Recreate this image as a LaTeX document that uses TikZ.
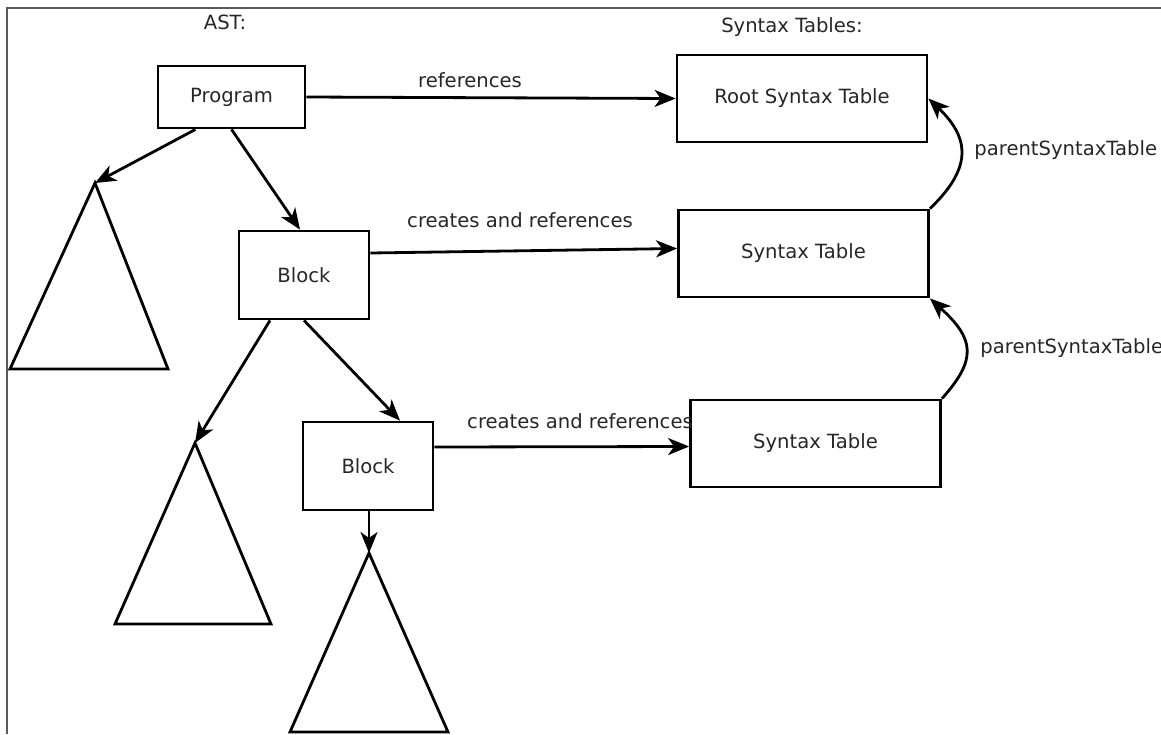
\documentclass[tikz,border=0pt]{standalone}
\usepackage{fontspec}
\setmainfont{DejaVu Sans}
\usetikzlibrary{arrows.meta,positioning,calc}

\begin{document}
\begin{tikzpicture}[x=1pt,y=-1pt,line width=2.8pt,
    >={Stealth[length=21pt,width=17pt,inset=6pt]},
    font=\fontsize{19.6}{23}\selectfont]
    \tikzstyle{box}=[draw, rectangle, inner sep=0pt, text=black!85]
    \tikzstyle{ast node}=[box, minimum width=130pt, minimum height=88pt]
    \tikzstyle{table node}=[box, minimum width=250pt, minimum height=87pt]
    \tikzstyle{annot}=[text=black!85, inner sep=1pt]
    \tikzstyle{subtree}=[line join=miter]

    \useasboundingbox (0,0) rectangle (1161,734);

    % Frame of the page
    \draw[black!65, line width=2pt] (7,734) -- (7,8) -- (1161,8);

    % Headings
    \node[annot] (ast) at (225,22) {AST:};
    \node[annot] (tables) at (792,27) {Syntax Tables:};

    % Draw the AST nodes
    \node[ast node, minimum width=147pt, minimum height=62pt] (prog) at (231.5,97) {Program};
    \node[ast node] (blockA) at (304,275) {Block};
    \node[ast node] (blockB) at (368,466) {Block};

    % Draw the syntax tables
    \node[table node] (root) at (802,98.5) {Root Syntax Table};
    \node[table node] (tabA) at (803.5,253.5) {Syntax Table};
    \node[table node] (tabB) at (815.5,443.5) {Syntax Table};

    % Draw the subtrees
    \coordinate (treeA) at (95,183);
    \coordinate (treeB) at (195,443);
    \coordinate (treeC) at (369,553);
    \draw[subtree] (treeA) -- (10,369) -- (168,369) -- cycle;
    \draw[subtree] (treeB) -- (115,624) -- (271,624) -- cycle;
    \draw[subtree] (treeC) -- (290,732) -- (448,732) -- cycle;

    % Connect the AST nodes
    \draw[->] ([xshift=-36pt]prog.south) -- (treeA);
    \draw[->] (prog.south) -- ([xshift=-4pt]blockA.north);
    \draw[->] ([xshift=-34pt]blockA.south) -- (treeB);
    \draw[->] (blockA.south) -- ([xshift=32pt]blockB.north);
    \draw[->] ([xshift=1pt]blockB.south) -- (treeC);

    % References from the AST to the tables
    \draw[->] (prog.east) -- (root.west);
    \draw[->] ([yshift=22pt]blockA.east) -- ([yshift=5pt]tabA.west);
    \draw[->] ([yshift=19pt]blockB.east) -- ([yshift=-3pt]tabB.west);
    \node[annot] (refs) at (470,80) {references};
    \node[annot] (crA) at (520,220) {creates and references};
    \node[annot] (crB) at (580,421) {creates and references};

    % Parent links between the tables
    \draw[->] (tabA.north east) .. controls +(42,-40) and +(42,40) .. (root.east);
    \draw[->] (tabB.north east) .. controls +(36,-40) and +(44,40) .. (tabA.south east);
    \node[annot, anchor=west] (parA) at (972,150) {parentSyntaxTable};
    \node[annot, anchor=west] (parB) at (978,348) {parentSyntaxTable};
\end{tikzpicture}
\end{document}
